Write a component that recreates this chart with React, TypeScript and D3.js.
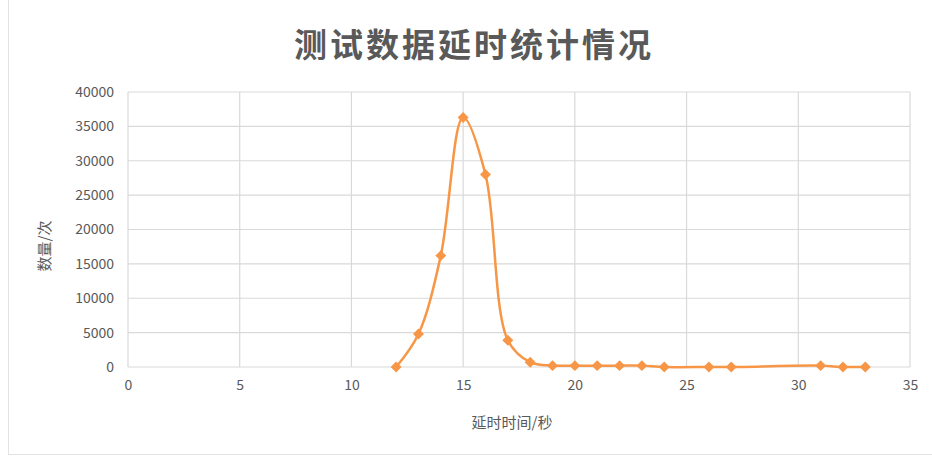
import { useEffect, useRef } from 'react';
import * as d3 from 'd3';

const WIDTH = 932;
const HEIGHT = 457;

const TITLE = '测试数据延时统计情况';
const X_LABEL = '延时时间/秒';
const Y_LABEL = '数量/次';

const delaySeconds = [12, 13, 14, 15, 16, 17, 18, 19, 20, 21, 22, 23, 24, 26, 27, 31, 32, 33];
const counts = [0, 4800, 16200, 36300, 28000, 3900, 700, 200, 200, 200, 200, 200, 0, 0, 0, 200, 0, 0];

const xTicks = [0, 5, 10, 15, 20, 25, 30, 35];
const yTicks = [0, 5000, 10000, 15000, 20000, 25000, 30000, 35000, 40000];

const LINE_COLOR = '#f79646';
const TEXT_COLOR = '#595959';
const GRID_COLOR = '#d9d9d9';
const FONT = "'Noto Sans CJK SC', 'Noto Sans', sans-serif";

function drawChart(svg: SVGSVGElement) {
  const el = d3.select(svg);
  el.selectAll('*').remove();

  const margin = { top: 92, right: 22, bottom: 90, left: 128 };
  const innerW = WIDTH - margin.left - margin.right;
  const innerH = HEIGHT - margin.top - margin.bottom;

  const x = d3.scaleLinear().domain([0, 35]).range([0, innerW]);
  const y = d3.scaleLinear().domain([0, 40000]).range([innerH, 0]);

  // outer chart border (only left + bottom show in the picture)
  el.append('rect')
    .attr('x', 8.5).attr('y', -1).attr('width', WIDTH + 2).attr('height', HEIGHT - 1.5)
    .attr('fill', '#fff').attr('stroke', '#e3e3e3');

  el.append('text')
    .attr('x', 474).attr('y', 57)
    .attr('text-anchor', 'middle')
    .attr('font-family', FONT).attr('font-size', 33).attr('font-weight', 700)
    .attr('letter-spacing', 3)
    .attr('fill', TEXT_COLOR)
    .text(TITLE);

  const g = el.append('g').attr('transform', `translate(${margin.left},${margin.top})`);

  g.append('g')
    .selectAll('line')
    .data(yTicks)
    .join('line')
    .attr('x1', 0).attr('x2', innerW)
    .attr('y1', (d) => y(d)).attr('y2', (d) => y(d))
    .attr('stroke', GRID_COLOR).attr('stroke-width', 1.2);

  g.append('g')
    .selectAll('line')
    .data(xTicks)
    .join('line')
    .attr('x1', (d) => x(d)).attr('x2', (d) => x(d))
    .attr('y1', 0).attr('y2', innerH)
    .attr('stroke', GRID_COLOR).attr('stroke-width', 1.2);

  const xAxis = g.append('g')
    .attr('transform', `translate(0,${innerH})`)
    .call(d3.axisBottom(x).tickValues(xTicks).tickSize(0).tickPadding(13).tickFormat((v) => String(v)));
  xAxis.select('.domain').remove();
  xAxis.selectAll('text').attr('font-family', FONT).attr('font-size', 14).attr('fill', TEXT_COLOR);

  const yAxis = g.append('g')
    .call(d3.axisLeft(y).tickValues(yTicks).tickSize(0).tickPadding(14).tickFormat((v) => String(v)));
  yAxis.select('.domain').remove();
  yAxis.selectAll('text').attr('font-family', FONT).attr('font-size', 14).attr('fill', TEXT_COLOR);

  const points = delaySeconds.map((d, i) => ({ sec: d, count: counts[i] }));

  const lineGen = d3.line<{ sec: number; count: number }>()
    .x((d) => x(d.sec))
    .y((d) => y(d.count))
    .curve(d3.curveCatmullRom.alpha(0.5));

  g.append('path')
    .datum(points)
    .attr('fill', 'none')
    .attr('stroke', LINE_COLOR)
    .attr('stroke-width', 2.5)
    .attr('d', lineGen);

  const diamond = d3.symbol().type(d3.symbolSquare).size(60);
  g.append('g')
    .selectAll('path')
    .data(points)
    .join('path')
    .attr('transform', (d) => `translate(${x(d.sec)},${y(d.count)}) rotate(45)`)
    .attr('d', diamond)
    .attr('fill', LINE_COLOR);

  el.append('text')
    .attr('x', margin.left + innerW / 2 - 7).attr('y', 428)
    .attr('text-anchor', 'middle')
    .attr('font-family', FONT).attr('font-size', 15)
    .attr('fill', TEXT_COLOR)
    .text(X_LABEL);

  el.append('text')
    .attr('transform', `translate(50,246) rotate(-90)`)
    .attr('text-anchor', 'middle')
    .attr('font-family', FONT).attr('font-size', 15)
    .attr('fill', TEXT_COLOR)
    .text(Y_LABEL);
}

export default function App() {
  const svgRef = useRef<SVGSVGElement>(null);

  useEffect(() => {
    if (!svgRef.current) return;
    drawChart(svgRef.current);
  }, []);

  return (
    <div style={{ position: 'absolute', left: 0, top: 0 }}>
      <svg ref={svgRef} width={WIDTH} height={HEIGHT} style={{ display: 'block', background: '#fff' }} />
    </div>
  );
}
